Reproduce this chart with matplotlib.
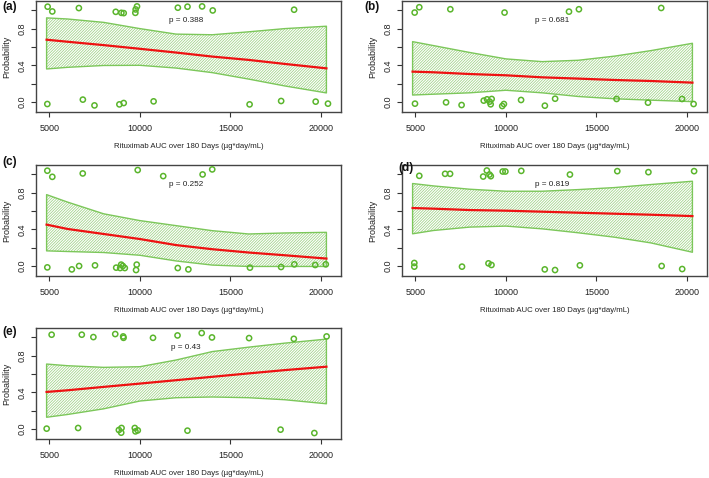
import matplotlib
matplotlib.use('Agg')
import matplotlib.pyplot as plt
import numpy as np

plt.rcParams['font.family'] = ['Liberation Sans', 'DejaVu Sans']
plt.rcParams['hatch.linewidth'] = 0.55

grid = [4850, 6000, 8000, 10000, 12000, 14000, 16000, 18000, 20300]

# panel (a)
auc_a = [4908, 5165, 6632, 8668, 8979, 9108, 9750, 9768, 9842, 12097, 12629, 13436, 14023, 18515,
         4890, 6852, 7494, 8869, 9108, 10758, 16058, 17800, 19707, 20386]
resp_a = [1.039, 0.987, 1.024, 0.983, 0.972, 0.969, 0.972, 1.009, 1.042, 1.028, 1.039, 1.042, 0.998, 1.006,
          -0.022, 0.026, -0.037, -0.026, -0.011, 0.007, -0.026, 0.011, 0.004, -0.018]
fit_a = [0.679, 0.657, 0.62, 0.58, 0.539, 0.495, 0.459, 0.415, 0.367]
upr_a = [0.917, 0.905, 0.868, 0.80, 0.74, 0.733, 0.765, 0.80, 0.826]
lwr_a = [0.360, 0.378, 0.398, 0.40, 0.37, 0.32, 0.25, 0.175, 0.099]

# panel (b)
auc_b = [4964, 5219, 6934, 9927, 13485, 14033, 18577,
         4982, 6697, 7555, 8777, 8960, 9106, 9161, 9215, 9799, 9891, 10839, 12153, 12719, 16113, 17847, 19726, 20365]
resp_b = [0.975, 1.033, 1.011, 0.975, 0.985, 1.011, 1.025,
          -0.018, -0.004, -0.033, 0.015, 0.029, 0.004, -0.025, 0.033, -0.044, -0.022, 0.022, -0.04, 0.036, 0.033, -0.007, 0.033, -0.022]
fit_b = [0.331, 0.324, 0.305, 0.291, 0.269, 0.255, 0.24, 0.229, 0.211]
upr_b = [0.658, 0.615, 0.54, 0.47, 0.44, 0.455, 0.50, 0.56, 0.64]
lwr_b = [0.076, 0.085, 0.10, 0.128, 0.10, 0.06, 0.035, 0.02, 0.004]

# panel (c)
auc_c = [4890, 5165, 6846, 9881, 11289, 13464, 13995,
         4890, 6243, 6645, 7523, 8693, 8913, 8967, 9059, 9168, 9790, 9826, 12093, 12678, 16078, 17797, 18528, 19680, 20265]
resp_c = [1.039, 0.972, 1.009, 1.046, 0.98, 0.998, 1.053,
          -0.015, -0.037, 0.0, 0.007, -0.018, -0.022, 0.015, 0.0, -0.022, -0.044, 0.015, -0.022, -0.037, -0.018, -0.011, 0.018, 0.011, 0.018]
fit_c = [0.451, 0.404, 0.349, 0.294, 0.228, 0.183, 0.147, 0.117, 0.081]
upr_c = [0.778, 0.697, 0.569, 0.495, 0.44, 0.385, 0.349, 0.36, 0.367]
lwr_c = [0.165, 0.158, 0.147, 0.117, 0.055, 0.01, -0.005, -0.005, -0.005]

# panel (d)
auc_d = [5219, 6645, 6919, 8748, 8949, 9095, 9168, 9826, 9973, 10850, 13537, 16152, 17870, 20393,
         4945, 4945, 7578, 9040, 9205, 12148, 12715, 14086, 18601, 19735]
resp_d = [0.983, 1.005, 1.005, 0.975, 1.041, 0.997, 0.979, 1.03, 1.03, 1.037, 0.997, 1.034, 1.023, 1.034,
          0.033, -0.007, -0.007, 0.029, 0.011, -0.037, -0.044, 0.007, 0.0, -0.033]
fit_d = [0.632, 0.625, 0.61, 0.603, 0.592, 0.581, 0.57, 0.559, 0.544]
upr_d = [0.899, 0.873, 0.837, 0.815, 0.815, 0.833, 0.855, 0.888, 0.924]
lwr_d = [0.351, 0.387, 0.424, 0.435, 0.405, 0.362, 0.314, 0.252, 0.15]

# panel (e)
auc_e = [5128, 6793, 7433, 8640, 9079, 9097, 10725, 12079, 13414, 13981, 16030, 18500, 20310,
         4854, 6591, 8841, 8988, 8969, 9719, 9756, 9884, 12628, 17768, 19634]
resp_e = [1.028, 1.028, 1.002, 1.035, 1.009, 0.994, 0.994, 1.02, 1.046, 0.998, 0.991, 0.983, 1.009,
          0.004, 0.011, -0.011, 0.011, -0.04, 0.011, -0.026, -0.015, -0.018, -0.007, -0.044]
fit_e = [0.404, 0.422, 0.459, 0.495, 0.532, 0.569, 0.606, 0.642, 0.679]
upr_e = [0.708, 0.69, 0.672, 0.679, 0.752, 0.844, 0.892, 0.936, 0.98]
lwr_e = [0.128, 0.158, 0.22, 0.305, 0.341, 0.349, 0.341, 0.319, 0.275]

panels = ['(a)', '(b)', '(c)', '(d)', '(e)']
pvals = ['p = 0.388', 'p = 0.681', 'p = 0.252', 'p = 0.819', 'p = 0.43']

data = [(auc_a, resp_a, fit_a, upr_a, lwr_a),
        (auc_b, resp_b, fit_b, upr_b, lwr_b),
        (auc_c, resp_c, fit_c, upr_c, lwr_c),
        (auc_d, resp_d, fit_d, upr_d, lwr_d),
        (auc_e, resp_e, fit_e, upr_e, lwr_e)]

# axes boxes in pixels (left, top) - all 305 x 111
W, H = 709, 478
boxes = [(36, 1), (402, 1), (36, 165), (402, 165), (36, 328)]
label_pos = [(2, 7), (364, 7), (2, 162), (398, 168), (2, 332)]

pt_col = '#5ab52c'
band_col = '#7cc75a'
hatch_col = '#9ed285'

fig = plt.figure(figsize=(W / 100, H / 100), dpi=100)

for i, (auc, resp, fit, upr, lwr) in enumerate(data):
    bx, by = boxes[i]
    ax = fig.add_axes([bx / W, 1 - (by + 111) / H, 305 / W, 111 / H])

    # hatched CI band, then its outline
    ax.fill_between(grid, lwr, upr, facecolor='none', edgecolor=hatch_col,
                    hatch='/' * 12, linewidth=0, zorder=1)
    ax.fill_between(grid, lwr, upr, facecolor='none', edgecolor=band_col,
                    linewidth=1.0, zorder=1)
    ax.plot(grid, fit, color='#ee1111', linewidth=1.6, zorder=2)
    ax.scatter(auc, resp, s=14, facecolors='none', edgecolors=pt_col,
               linewidths=1.1, zorder=3)

    ax.text(12550, 0.89, pvals[i], ha='center', va='center', fontsize=5.9, color='#222222')

    ax.set_xlim(4265, 21105)
    ax.set_ylim(-0.109, 1.101)
    ax.set_xticks([5000, 10000, 15000, 20000])
    ax.set_yticks([0, 0.2, 0.4, 0.6, 0.8, 1.0])
    ax.set_yticklabels(['0.0', '', '0.4', '', '0.8', ''], rotation=90, va='center')
    ax.tick_params(axis='both', labelsize=6.5, length=3.5, width=0.8,
                   color='#333333', labelcolor='#222222')
    ax.tick_params(axis='x', pad=5)
    ax.tick_params(axis='y', pad=3)
    for s in ax.spines.values():
        s.set_color('#444444')
        s.set_linewidth(1.0)

    ax.set_xlabel('Rituximab AUC over 180 Days (µg*day/mL)', fontsize=5.6,
                  color='#222222', labelpad=7)
    ax.set_ylabel('Probability', fontsize=6.5, color='#222222', labelpad=5)

    lx, ly = label_pos[i]
    fig.text(lx / W, 1 - ly / H, panels[i], ha='left', va='center',
             fontsize=8.5, fontweight='bold', color='#111111')

plt.savefig('out.png', dpi=100)
